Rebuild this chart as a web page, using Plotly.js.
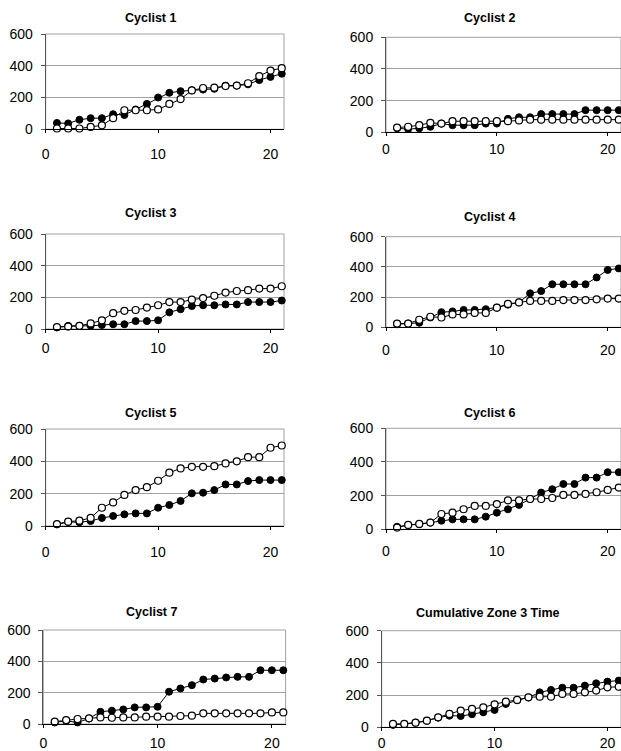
<!DOCTYPE html>
<html>
<head>
<meta charset="utf-8">
<script src="https://cdn.plot.ly/plotly-3.0.1.min.js"></script>
<style>html,body{margin:0;padding:0;background:#fff;}#chart{width:621px;height:751px;}</style>
</head>
<body>
<div id="chart"></div>
<script>
const sessions = [1,2,3,4,5,6,7,8,9,10,11,12,13,14,15,16,17,18,19,20,21];
const panelTitles = ["Cyclist 1","Cyclist 2","Cyclist 3","Cyclist 4","Cyclist 5","Cyclist 6","Cyclist 7","Cumulative Zone 3 Time"];
const yTickVals = [0,200,400,600];
const xTickVals = [0,10,20];

const c1Filled = [40,37,60,70,70,95,90,125,160,200,230,240,245,250,255,275,275,283,310,330,350];
const c1Open   = [5,5,5,15,25,70,120,120,120,125,160,190,245,260,262,272,275,290,335,370,385];
const c2Filled = [25,20,25,35,55,45,45,45,55,55,85,95,95,115,115,115,115,140,140,140,140];
const c2Open   = [30,35,45,60,55,70,70,70,70,70,70,75,80,80,80,80,80,80,80,80,80];
const c3Filled = [10,20,20,20,25,30,30,50,50,55,105,125,145,150,150,155,155,170,170,170,180];
const c3Open   = [12,15,20,35,55,100,115,120,135,150,170,170,185,195,210,230,240,245,255,255,270];
const c4Filled = [20,25,30,65,100,105,115,115,120,130,150,165,225,240,285,285,285,285,330,380,390];
const c4Open   = [25,25,50,70,65,85,85,95,95,130,155,165,175,175,175,180,180,180,185,190,190];
const c5Filled = [10,25,23,31,50,62,72,78,78,113,130,155,202,206,222,257,257,278,284,284,284];
const c5Open   = [12,27,33,50,113,146,192,222,240,280,330,356,366,366,370,387,400,426,426,484,498];
const c6Filled = [15,25,30,40,51,59,59,59,75,99,119,145,180,218,238,269,269,307,307,339,339];
const c6Open   = [10,26,32,40,91,99,119,139,139,150,172,172,180,180,186,204,204,210,220,234,248];
const c7Filled = [10,20,10,35,78,85,93,106,106,110,206,227,248,284,290,297,301,301,343,343,343];
const c7Open   = [15,25,32,36,42,40,42,42,47,47,47,51,53,68,68,68,68,68,68,74,74];
const cumFilled = [15,20,28,40,60,72,70,81,93,108,145,168,185,217,232,246,246,259,273,284,290];
const cumOpen   = [21,21,29,41,62,83,104,114,124,143,159,170,186,190,190,207,207,217,228,248,252];

const filledSeries = [c1Filled,c2Filled,c3Filled,c4Filled,c5Filled,c6Filled,c7Filled,cumFilled];
const openSeries   = [c1Open,c2Open,c3Open,c4Open,c5Open,c6Open,c7Open,cumOpen];

const W = 621, H = 751;
// plot areas in pixels: [left, right, top, bottom]
const boxes = [
  [45.7,284,34,129.3],[386,621,37.3,132.3],
  [45.7,284,234,329],[386,621,236.7,327.3],
  [45.7,284,429,526],[386,621,428.3,529.3],
  [43.3,285.6,630,724],[381.7,621,630.7,727.3]
];
const titlePos = [[150,17.7],[489,18.3],[150,213],[489,216.7],[150,412.7],[489,413],[151,611.7],[488,612.7]];
const xStandoff = [9,1,3,7,10,6,3,0];

const FONT = "Arial, 'Liberation Sans', sans-serif";
const data = [];
const layout = {
  width: W, height: H,
  margin: {l:0,r:0,t:0,b:0},
  paper_bgcolor: "#fff", plot_bgcolor: "#fff",
  showlegend: false,
  font: {family: FONT, color: "#000", size: 13},
  shapes: [], annotations: []
};

for (let i = 0; i < 8; i++) {
  const n = i + 1;
  const xa = n === 1 ? "x" : "x" + n;
  const ya = n === 1 ? "y" : "y" + n;
  const b = boxes[i];
  const lineStyle = {color: "#000", width: 1};
  data.push({
    x: sessions, y: filledSeries[i], xaxis: xa, yaxis: ya, type: "scatter", mode: "lines+markers",
    line: lineStyle, cliponaxis: false,
    marker: {symbol: "circle", size: 7, color: "#000", line: {color: "#000", width: 1}}
  });
  data.push({
    x: sessions, y: openSeries[i], xaxis: xa, yaxis: ya, type: "scatter", mode: "lines+markers",
    line: lineStyle, cliponaxis: false,
    marker: {symbol: "circle", size: 7, color: "#fff", line: {color: "#000", width: 1.2}}
  });
  layout["xaxis" + (n === 1 ? "" : n)] = {
    domain: [b[0]/W, b[1]/W], anchor: ya, range: [0, 21.2],
    tickvals: xTickVals, ticks: "outside", ticklen: 3, tickcolor: "#000",
    showgrid: false, zeroline: false, showline: true, linecolor: "#000", linewidth: 1,
    tickfont: {family: FONT, size: 14, color: "#000"}, ticklabelstandoff: xStandoff[i],
    fixedrange: true
  };
  layout["yaxis" + (n === 1 ? "" : n)] = {
    domain: [1 - b[3]/H, 1 - b[2]/H], anchor: xa, range: [0, 600],
    tickvals: yTickVals, ticks: "outside", ticklen: 4, tickcolor: "#555",
    showgrid: true, gridcolor: "#a0a0a0", gridwidth: 1, zeroline: false,
    showline: true, linecolor: "#555", linewidth: 1,
    tickfont: {family: FONT, size: 14, color: "#000"}, ticklabelstandoff: 5,
    fixedrange: true
  };
  layout.shapes.push({
    type: "rect", xref: xa + " domain", yref: ya + " domain", x0: 0, x1: 1, y0: 0, y1: 1,
    line: {color: "#a0a0a0", width: 1}, layer: "below"
  });
  layout.annotations.push({
    text: "<b>" + panelTitles[i] + "</b>", xref: "paper", yref: "paper",
    x: titlePos[i][0]/W, y: 1 - titlePos[i][1]/H, xanchor: "center", yanchor: "middle",
    showarrow: false, font: {family: FONT, size: 12.5, color: "#000"}
  });
}

Plotly.newPlot("chart", data, layout, {displayModeBar: false, staticPlot: true});
</script>
</body>
</html>
